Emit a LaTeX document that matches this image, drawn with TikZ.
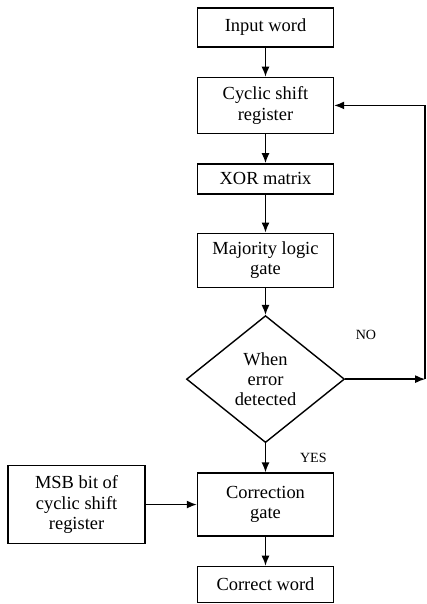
\documentclass[tikz,border=0pt]{standalone}
\usepackage{fontspec}
\setmainfont{Liberation Serif}
\usetikzlibrary{positioning, shapes.geometric, arrows.meta}

\begin{document}
\begin{tikzpicture}[node distance=0.58cm, line width=0.8pt, >={Latex[length=2mm,width=1.6mm]},
  box/.style={draw, minimum width=2.72cm, align=center, inner sep=2pt, font=\fontsize{10.5}{11.5}\selectfont},
  decision/.style={draw, diamond, aspect=1.25, minimum width=3.16cm, minimum height=2.54cm, inner sep=0pt, align=center, font=\fontsize{10.5}{11.5}\selectfont}]
\useasboundingbox (0,0) rectangle (8.54,-12.08);
\node[box, minimum height=0.78cm] (in) at (5.31,-0.55) {Input word};
\node[box, minimum height=1.12cm, below=of in] (cyc) {Cyclic shift\\register};
\node[box, minimum height=0.6cm, below=of cyc] (xor) {XOR matrix};
\node[box, minimum height=1.08cm, below=0.76cm of xor] (maj) {Majority logic\\gate};
\node[decision, below=0.54cm of maj] (dec) {When\\error\\detected};
\node[box, minimum height=1.26cm, below=0.58cm of dec] (corr) {Correction\\gate};
\node[box, minimum height=0.72cm, below=0.58cm of corr] (out) {Correct word};
\node[box, minimum width=2.74cm, minimum height=1.56cm, left=1.02cm of corr] (msb) {MSB bit of\\cyclic shift\\register};
\coordinate[right=1.6cm of dec] (fb);
\node[font=\footnotesize, above right=0.66cm and 0.08cm of dec.east] (no) {NO};
\node[font=\footnotesize, above right=0.06cm and 0.56cm of corr.north] (yes) {YES};
\draw[->] (in) -- (cyc);
\draw[->] (cyc) -- (xor);
\draw[->] (xor) -- (maj);
\draw[->] (maj) -- (dec);
\draw[->] (dec) -- (corr);
\draw[->] (corr) -- (out);
\draw[->] (msb) -- (corr);
\draw[->] (dec) -- (fb);
\draw[->] (fb) |- (cyc);
\end{tikzpicture}
\end{document}
